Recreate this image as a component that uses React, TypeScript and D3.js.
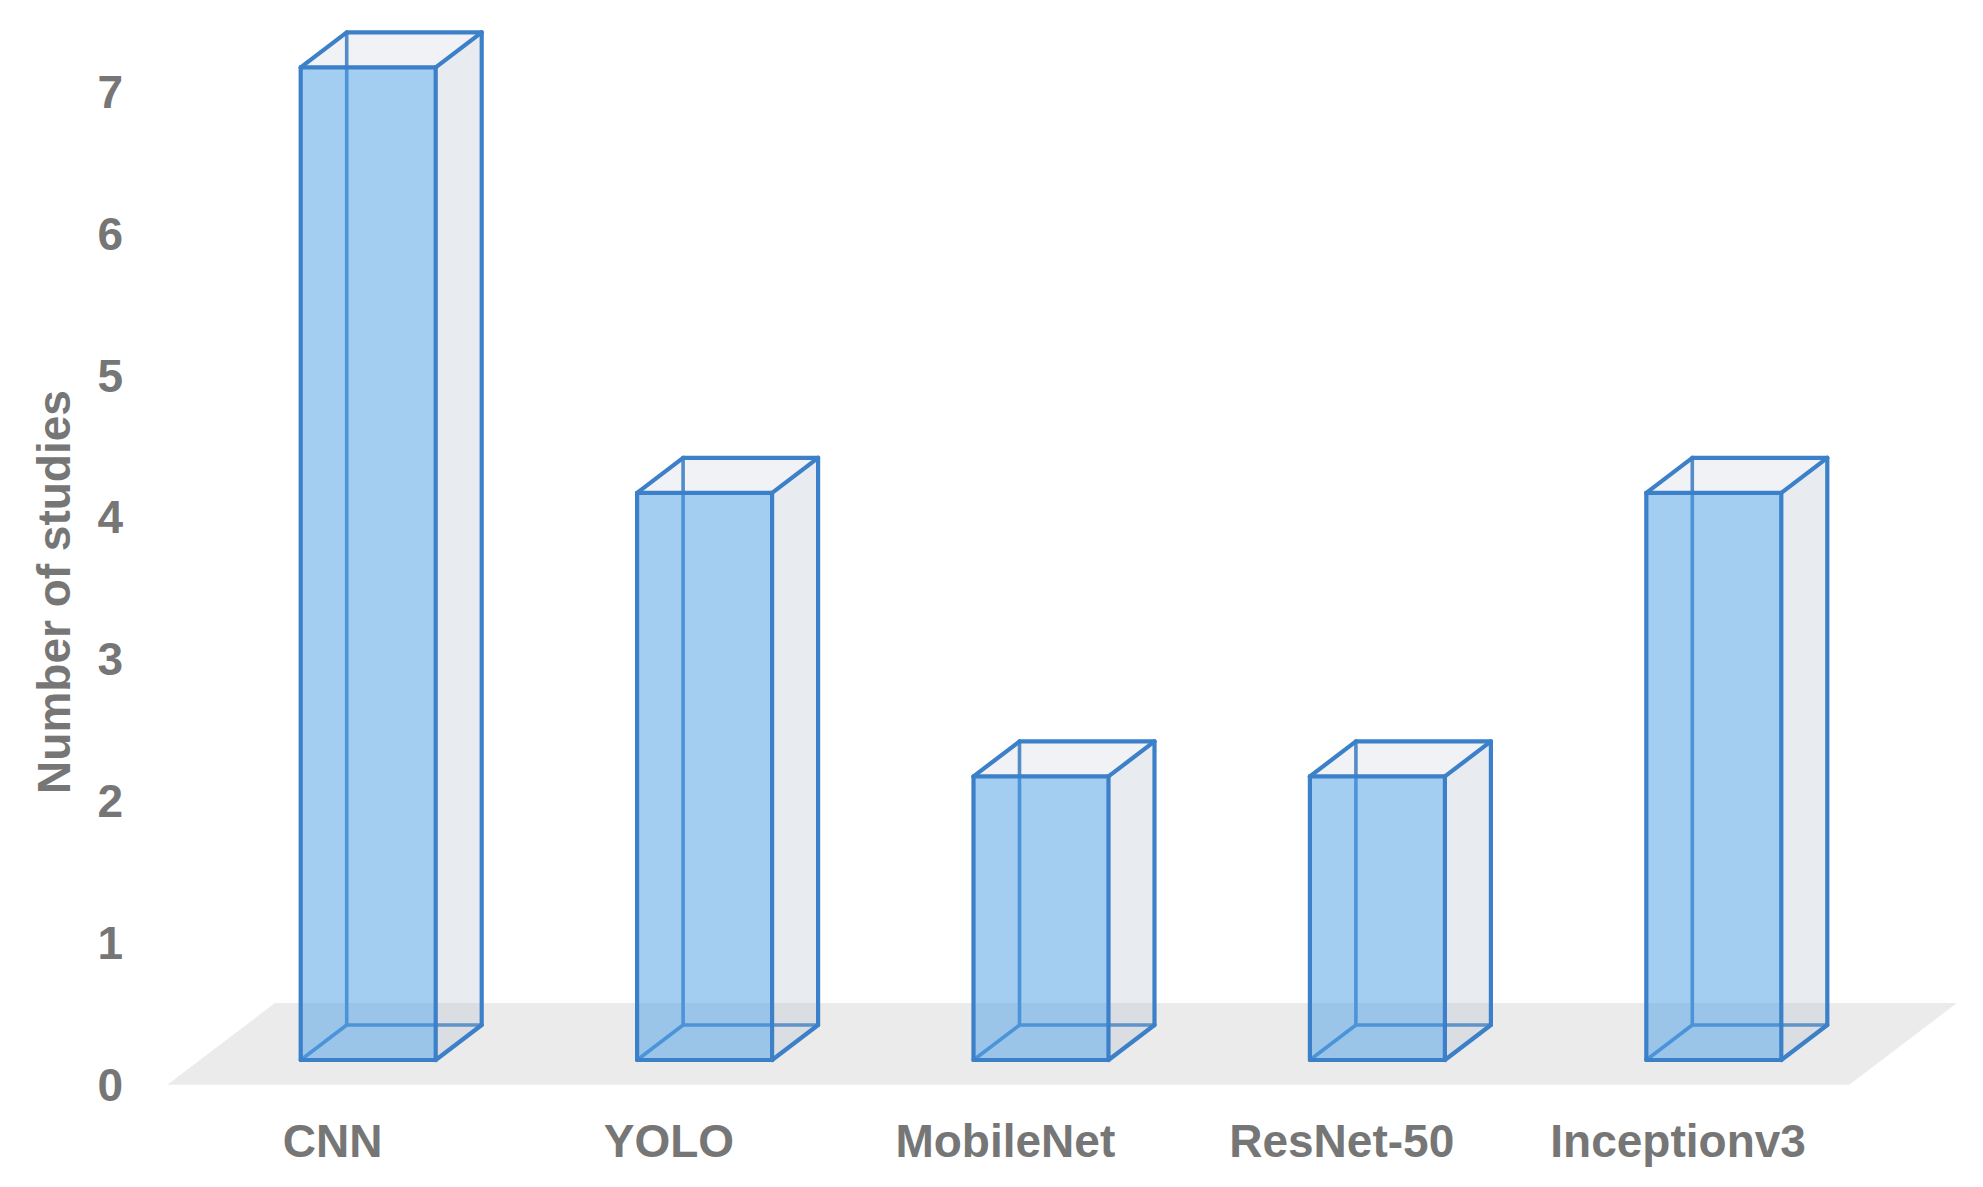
import React from "react";
import * as d3 from "d3";

const categories = ["CNN", "YOLO", "MobileNet", "ResNet-50", "Inceptionv3"];
const studies = [7, 4, 2, 2, 4];
const yTicks = [0, 1, 2, 3, 4, 5, 6, 7];
const yTitle = "Number of studies";

const W = 1983;
const H = 1187;
const FONT = "'Liberation Sans', Arial, sans-serif";
const TEXT = "#767676";
const STROKE = "#3b80c8";
const DX = 46; // depth offset x
const DY = -35; // depth offset y

export default function App() {
  const x = d3
    .scaleBand<string>()
    .domain(categories)
    .range([200, 1882])
    .paddingInner(0.5987)
    .paddingOuter(0.5987 / 2);
  const y = d3.scaleLinear().domain([0, 7]).range([1084, 91.4]);
  const frontShift = -24; // front face offset from axis
  const bw = x.bandwidth();

  // floor (in depth units relative to bar front)
  const fFront = -0.71;
  const fBack = 1.63;
  const [r0, r1] = x.range();
  const floorY0 = y(0) + frontShift;
  const fp = (xx: number, d: number) => [xx + d * DX, floorY0 + d * DY];
  const floorPts = [fp(r0, fFront), fp(r1, fFront), fp(r1, fBack), fp(r0, fBack)];

  return (
    <div style={{ position: "absolute", left: 0, top: 0 }}>
      <svg width={W} height={H} style={{ display: "block", background: "#fff" }}>
        <rect width={W} height={H} fill="#fff" />
        <polygon points={floorPts.map((p) => p.join(",")).join(" ")} fill="#ebebeb" />

        {categories.map((c, i) => {
          const xL = x(c)!;
          const xR = xL + bw;
          const yB = y(0) + frontShift;
          const yT = y(studies[i]) + frontShift;
          const line = (x1: number, y1: number, x2: number, y2: number, k: string, sw = 4.2) => (
            <line key={k} x1={x1} y1={y1} x2={x2} y2={y2} stroke={STROKE} strokeWidth={sw} strokeLinecap="round" />
          );
          return (
            <g key={c}>
              {/* hidden edges */}
              {line(xL + DX, yT + DY, xL + DX, yB + DY, "h1", 3.6)}
              {line(xL + DX, yB + DY, xR + DX, yB + DY, "h2", 3.6)}
              {line(xL, yB, xL + DX, yB + DY, "h3", 3.6)}
              {/* right face */}
              <polygon
                points={`${xR},${yT} ${xR + DX},${yT + DY} ${xR + DX},${yB + DY} ${xR},${yB}`}
                fill="rgb(178,192,205)"
                fillOpacity={0.3}
              />
              {/* top face */}
              <polygon
                points={`${xL},${yT} ${xL + DX},${yT + DY} ${xR + DX},${yT + DY} ${xR},${yT}`}
                fill="rgb(178,192,205)"
                fillOpacity={0.2}
              />
              {/* front face */}
              <rect x={xL} y={yT} width={bw} height={yB - yT} fill="rgb(90,164,231)" fillOpacity={0.55} />
              {/* visible edges */}
              {line(xL, yT, xR, yT, "v1")}
              {line(xL, yB, xR, yB, "v2")}
              {line(xL, yT, xL, yB, "v3")}
              {line(xR, yT, xR, yB, "v4")}
              {line(xL + DX, yT + DY, xR + DX, yT + DY, "v5")}
              {line(xR + DX, yT + DY, xR + DX, yB + DY, "v6")}
              {line(xL, yT, xL + DX, yT + DY, "v7")}
              {line(xR, yT, xR + DX, yT + DY, "v8")}
              {line(xR, yB, xR + DX, yB + DY, "v9")}
            </g>
          );
        })}

        {/* y tick labels */}
        {yTicks.map((t) => (
          <text
            key={t}
            x={123}
            y={y(t)}
            dy="0.36em"
            textAnchor="end"
            fontFamily={FONT}
            fontWeight="bold"
            fontSize={46}
            fill={TEXT}
          >
            {t}
          </text>
        ))}

        {/* y title */}
        <text
          transform={`translate(53,592) rotate(-90)`}
          textAnchor="middle"
          dy="0.36em"
          fontFamily={FONT}
          fontWeight="bold"
          fontSize={46}
          fill={TEXT}
        >
          {yTitle}
        </text>

        {/* x labels */}
        {categories.map((c) => (
          <text
            key={c}
            x={x(c)! + bw / 2 + fFront * DX - 3}
            y={1140}
            dy="0.36em"
            textAnchor="middle"
            fontFamily={FONT}
            fontWeight="bold"
            fontSize={46}
            fill={TEXT}
          >
            {c}
          </text>
        ))}
      </svg>
    </div>
  );
}
